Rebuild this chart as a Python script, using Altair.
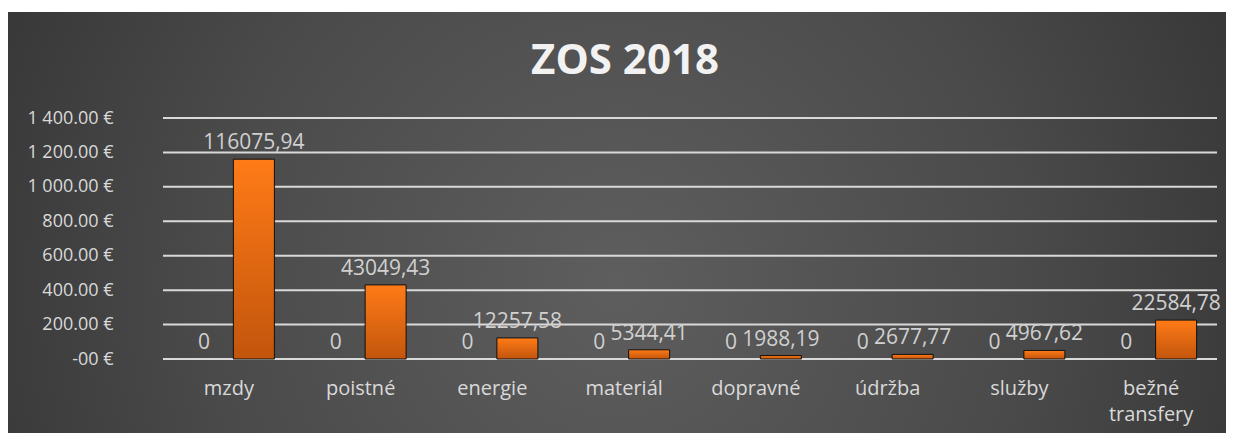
import altair as alt
import pandas as pd

categories = ["mzdy", "poistné", "energie", "materiál", "dopravné", "údržba", "služby", "bežné transfery"]
series_a_values = [0, 0, 0, 0, 0, 0, 0, 0]
series_a_labels = ["0", "0", "0", "0", "0", "0", "0", "0"]
series_b_values = [116075.94, 43049.43, 12257.58, 5344.41, 1988.19, 2677.77, 4967.62, 22584.78]
series_b_labels = ["116075,94", "43049,43", "12257,58", "5344,41", "1988,19", "2677,77", "4967,62", "22584,78"]
y_ticks = [0, 200, 400, 600, 800, 1000, 1200, 1400]
title_text = "ZOS 2018"

rows = []
for c, v, l in zip(categories, series_a_values, series_a_labels):
    rows.append({"category": c, "series": "A", "value": v, "label": l})
for c, v, l in zip(categories, series_b_values, series_b_labels):
    rows.append({"category": c, "series": "B", "value": v, "label": l})
df = pd.DataFrame(rows)
ticks_df = pd.DataFrame({"tick": y_ticks})
one = pd.DataFrame({"a": [0]})

FONT = "Open Sans"
LABEL_COLOR = "#D9D9D9"

yscale = alt.Scale(domain=[0, 1400], nice=False, zero=True)
xscale = alt.Scale(paddingInner=0, paddingOuter=0)
xoff = alt.XOffset("series:N", scale=alt.Scale(paddingInner=0.18, paddingOuter=0.4075))

x_axis = alt.Axis(labelFont=FONT, labelFontSize=20, labelColor=LABEL_COLOR,
                  labelAngle=0, ticks=False, domain=False, grid=False,
                  labelPadding=19, zindex=2, labelLineHeight=26,
                  labelExpr="split(datum.label, ' ')")
y_axis = alt.Axis(values=y_ticks, labelFont=FONT, labelFontSize=18,
                  labelColor=LABEL_COLOR, ticks=False, domain=False, grid=False,
                  labelPadding=50, zindex=2,
                  labelExpr="datum.value == 0 ? '-00 €' : replace(format(datum.value, ',.2f'), ',', ' ') + ' €'")

bg = alt.Chart(one).mark_rect(
    fill=alt.RadialGradient(
        gradient="radial",
        stops=[alt.GradientStop(color="#5E5E5E", offset=0),
               alt.GradientStop(color="#4A4A4A", offset=0.45),
               alt.GradientStop(color="#272727", offset=1)],
        x1=0.5, y1=0.55, r1=0, x2=0.5, y2=0.55, r2=0.75,
    )
).encode(x=alt.value(-155), x2=alt.value(1063), y=alt.value(-106), y2=alt.value(315))

title = alt.Chart(one).mark_text(
    text=title_text, font=FONT, fontWeight="bold", fontSize=42, color="#F2F2F2"
).encode(x=alt.value(462), y=alt.value(-57))

grid = alt.Chart(ticks_df).mark_rule(color="#D9D9D9", strokeWidth=2).encode(
    y=alt.Y("tick:Q", scale=yscale, axis=y_axis, title=None)
)

base = alt.Chart(df).transform_calculate(plot="datum.value / 100")

bars = base.mark_bar(
    fill=alt.LinearGradient(
        gradient="linear",
        stops=[alt.GradientStop(color="#FF7B17", offset=0),
               alt.GradientStop(color="#C2550C", offset=1)],
        x1=0, y1=0, x2=0, y2=1,
    ),
    stroke="#111111", strokeWidth=1,
).encode(
    x=alt.X("category:N", sort=categories, scale=xscale, title=None, axis=x_axis),
    xOffset=xoff,
    y=alt.Y("plot:Q", scale=yscale, title=None, axis=y_axis),
    strokeOpacity=alt.condition("datum.value > 0", alt.value(1), alt.value(0)),
    opacity=alt.condition("datum.value > 0", alt.value(1), alt.value(0)),
)

labels = base.mark_text(
    font=FONT, fontSize=21, color="#D0D0D0", baseline="bottom", dy=-6
).encode(
    x=alt.X("category:N", sort=categories, scale=xscale, title=None, axis=x_axis),
    xOffset=xoff,
    y=alt.Y("plot:Q", scale=yscale, title=None, axis=y_axis),
    text="label:N",
)

chart = alt.layer(bg, grid, bars, labels, title).properties(
    width=1054, height=241,
    padding={"left": 0, "top": 4, "right": 0, "bottom": 0},
).configure_view(stroke=None).configure(background="white")

chart.save("out.html", embed_options={"renderer": "svg", "actions": False})
